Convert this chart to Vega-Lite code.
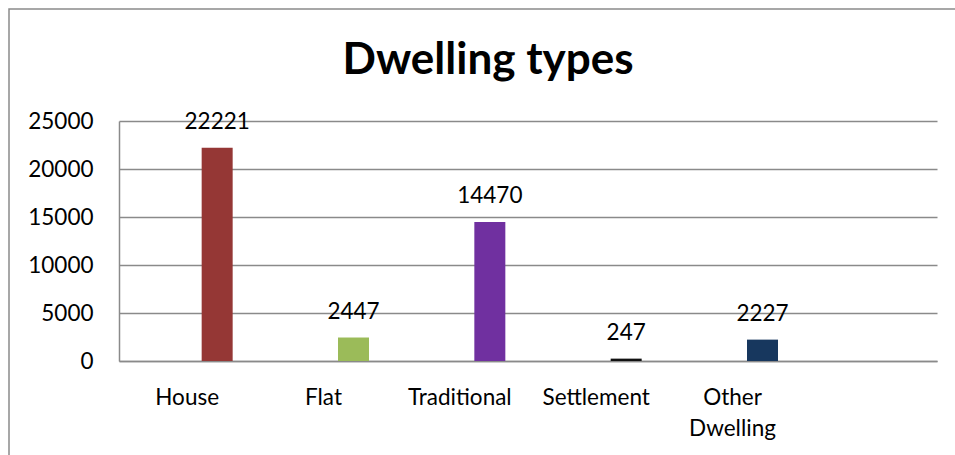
{
  "$schema": "https://vega.github.io/schema/vega-lite/v6.json",
  "width": 949,
  "height": 449,
  "autosize": {"type": "none"},
  "padding": {"left": 9, "top": 9, "right": -3, "bottom": -3},
  "background": "white",
  "title": {
    "text": "Dwelling types",
    "font": "Lato",
    "fontSize": 44,
    "fontWeight": "bold",
    "color": "black",
    "anchor": "middle",
    "frame": "group",
    "baseline": "alphabetic",
    "offset": 0,
    "dy": 109,
    "dx": 4.5
  },
  "data": {
    "values": [
      {"type": "House", "count": 22221},
      {"type": "Flat", "count": 2447},
      {"type": "Traditional", "count": 14470},
      {"type": "Settlement", "count": 247},
      {"type": "Other Dwelling", "count": 2227}
    ]
  },
  "encoding": {
    "x": {
      "field": "type",
      "type": "nominal",
      "sort": null,
      "scale": {
        "domain": ["House", "Flat", "Traditional", "Settlement", "Other Dwelling", ""],
        "range": [110, 928],
        "paddingInner": 0,
        "paddingOuter": 0
      },
      "axis": {
        "orient": "bottom",
        "offset": -97,
        "title": null,
        "ticks": false,
        "grid": false,
        "labelAngle": 0,
        "labelPadding": 25,
        "labelFont": "Lato",
        "labelFontSize": 22.5,
        "labelColor": "black",
        "labelLineHeight": 31,
        "labelOverlap": false,
        "labelLimit": 0,
        "labelExpr": "datum.label == 'Other Dwelling' ? ['Other', 'Dwelling'] : datum.label",
        "domainColor": "#8a8a8a",
        "domainWidth": 1.5
      }
    },
    "y": {
      "field": "count",
      "type": "quantitative",
      "scale": {"domain": [0, 25000], "range": [352, 112], "nice": false, "zero": true},
      "axis": {
        "orient": "left",
        "offset": -110,
        "title": null,
        "ticks": false,
        "values": [0, 5000, 10000, 15000, 20000, 25000],
        "format": "d",
        "labelPadding": 26,
        "labelFont": "Lato",
        "labelFontSize": 22.5,
        "labelColor": "black",
        "grid": true,
        "gridColor": "#8a8a8a",
        "gridWidth": 1.5,
        "domainColor": "#8a8a8a",
        "domainWidth": 1.5
      }
    }
  },
  "layer": [
    {
      "mark": {"type": "bar", "width": 31, "xOffset": 30},
      "encoding": {
        "color": {
          "field": "type",
          "type": "nominal",
          "scale": {
            "domain": ["House", "Flat", "Traditional", "Settlement", "Other Dwelling"],
            "range": ["#953735", "#9bbb59", "#7030a0", "#111111", "#17375e"]
          },
          "legend": null
        }
      }
    },
    {
      "mark": {
        "type": "text",
        "xOffset": 30,
        "dy": -19,
        "baseline": "alphabetic",
        "font": "Lato",
        "fontSize": 22.5,
        "color": "black"
      },
      "encoding": {
        "text": {"field": "count", "type": "quantitative", "format": "d"}
      }
    }
  ],
  "config": {
    "view": {"stroke": "#8a8a8a", "strokeWidth": 1.5}
  }
}
